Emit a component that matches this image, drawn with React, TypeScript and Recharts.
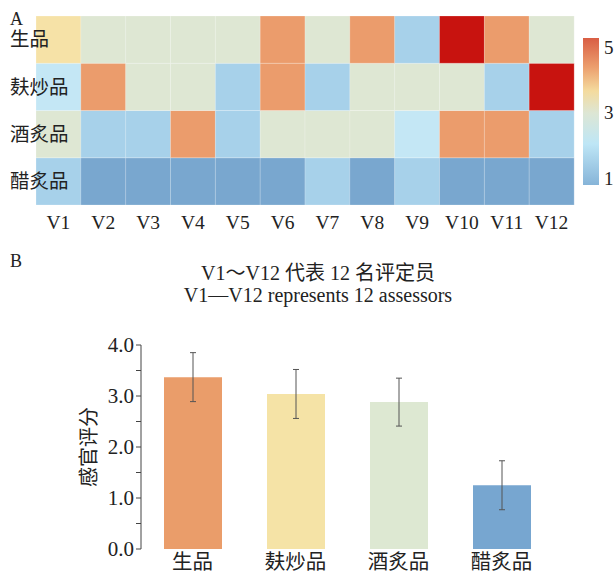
import { BarChart, Bar, XAxis, YAxis, Cell, ErrorBar, Label } from 'recharts';

const serif = '"Liberation Serif", "Times New Roman", "Noto Sans CJK SC", serif';

// panel A: heatmap of assessor scores
const assessors = ['V1', 'V2', 'V3', 'V4', 'V5', 'V6', 'V7', 'V8', 'V9', 'V10', 'V11', 'V12'];
const rowNames = ['生品', '麸炒品', '酒炙品', '醋炙品'];
const rawScores = [3.8, 3, 3, 3, 3, 4.4, 3, 4.4, 1.6, 5, 4.4, 3];
const branScores = [2.2, 4.4, 3, 3, 1.6, 4.4, 1.6, 3, 3, 3, 1.6, 5];
const wineScores = [3, 1.6, 1.6, 4.4, 1.6, 3, 3, 3, 2.2, 4.4, 4.4, 1.6];
const vinegarScores = [1.6, 1, 1, 1, 1, 1, 1.6, 1, 1.6, 1, 1, 1];
const rowTicks = [3.5, 2.5, 1.5, 0.5];
const colorbarTicks = ['5', '3', '1'];

// panel B: mean sensory score
const products = ['生品', '麸炒品', '酒炙品', '醋炙品'];
const meanScores = [3.37, 3.04, 2.88, 1.25];
const sdScores = [0.48, 0.48, 0.47, 0.48];
const barColors = ['#EA9D6A', '#F5E3A6', '#DDE8D2', '#77A6D0'];
const yTicks = [0, 0.5, 1, 1.5, 2, 2.5, 3, 3.5, 4];

const heatColor = (v: number) => {
  if (v >= 4.8) return '#C8130F';
  if (v >= 4.1) return '#EB9C6C';
  if (v >= 3.5) return '#F6E2A7';
  if (v >= 2.6) return '#DEE7D3';
  if (v >= 2) return '#C4E7F5';
  if (v >= 1.3) return '#A7D1EA';
  return '#79A7CF';
};

const heatData = assessors.map((a) => ({
  name: a,
  vinegar: 1,
  wine: 1,
  bran: 1,
  raw: 1,
}));

const rows = [
  { key: 'vinegar', scores: vinegarScores },
  { key: 'wine', scores: wineScores },
  { key: 'bran', scores: branScores },
  { key: 'raw', scores: rawScores },
];

const barData = products.map((p, i) => ({ name: p, score: meanScores[i], err: sdScores[i] }));

const RowTick = ({ y, payload }: any) => {
  const idx = rowTicks.indexOf(payload.value);
  return (
    <text x={10} y={y} dy="0.35em" textAnchor="start" fontSize={19.5} fill="#222" fontFamily={serif}>
      {rowNames[idx]}
    </text>
  );
};

export default function App() {
  return (
    <div style={{ position: 'absolute', left: 0, top: 0, width: 616, height: 573, background: '#fff', fontFamily: serif }}>
      <div style={{ position: 'absolute', left: 0, top: 0 }}>
        <BarChart width={616} height={235} data={heatData} barCategoryGap={0} margin={{ top: 16, right: 42, left: 0, bottom: 0 }}>
          <XAxis dataKey="name" axisLine={false} tickLine={false} tickSize={6} tickMargin={4} height={30}
            tick={{ fontSize: 19.5, fill: '#222', fontFamily: serif }} interval={0} />
          <YAxis type="number" domain={[0, 4]} ticks={rowTicks} width={36} axisLine={false} tickLine={false} tick={<RowTick />} />
          {rows.map((r) => (
            <Bar key={r.key} dataKey={r.key} stackId="h" isAnimationActive={false} stroke="#ffffff" strokeOpacity={0.35} strokeWidth={0.6}>
              {r.scores.map((v, i) => (
                <Cell key={i} fill={heatColor(v)} />
              ))}
            </Bar>
          ))}
        </BarChart>
      </div>

      <svg style={{ position: 'absolute', left: 0, top: 0 }} width={616} height={235}>
        <defs>
          <linearGradient id="cbar" x1="0" y1="0" x2="0" y2="1">
            <stop offset="0" stopColor="#D95E44" />
            <stop offset="0.2" stopColor="#EC9F6E" />
            <stop offset="0.36" stopColor="#F4DB9E" />
            <stop offset="0.51" stopColor="#DDE6D4" />
            <stop offset="0.72" stopColor="#BEE6F6" />
            <stop offset="1" stopColor="#86B4D8" />
          </linearGradient>
        </defs>
        <rect x={583} y={38} width={16} height={147} fill="url(#cbar)" />
        {colorbarTicks.map((t, i) => (
          <text key={t} x={604} y={47 + i * 65.5} dy="0.35em" fontSize={19} fill="#222" fontFamily={serif}>
            {t}
          </text>
        ))}
        <text x={10} y={25} fontSize={18} fill="#222" fontFamily={serif}>A</text>
      </svg>

      <div style={{ position: 'absolute', left: 10, top: 251, fontSize: 18, color: '#222' }}>B</div>
      <div style={{ position: 'absolute', left: 0, width: 636, top: 257, textAlign: 'center', fontSize: 20, color: '#222', whiteSpace: 'nowrap' }}>
        V1～V12 代表 12 名评定员
      </div>
      <div style={{ position: 'absolute', left: 0, width: 636, top: 284, textAlign: 'center', fontSize: 20, color: '#222', whiteSpace: 'nowrap' }}>
        V1—V12 represents 12 assessors
      </div>

      <div style={{ position: 'absolute', left: 0, top: 320 }}>
        <BarChart width={616} height={253} data={barData} margin={{ top: 25, right: 63, left: 0, bottom: 0 }}>
          <XAxis xAxisId="frame" type="number" domain={[0, 4]} ticks={[0, 1, 2, 3, 4]} height={0}
            stroke="#444" tickSize={4} tickFormatter={() => ''} />
          <XAxis xAxisId="cat" dataKey="name" axisLine={false} tickLine={false} height={24} tickSize={4} tickMargin={1}
            tick={{ fontSize: 20.5, fill: '#222', fontFamily: serif }} />
          <YAxis type="number" domain={[0, 4]} ticks={yTicks} width={141} stroke="#444" tickSize={5} tickMargin={2}
            interval={0} tickFormatter={(v: number) => (Number.isInteger(v) ? v.toFixed(1) : '')}
            tick={{ fontSize: 21, fill: '#222', fontFamily: serif }}>
            <Label value="感官评分" angle={-90} position="center" dx={18} style={{ fontSize: 20, fill: '#222', fontFamily: serif }} />
          </YAxis>
          <Bar dataKey="score" xAxisId="cat" barSize={58} isAnimationActive={false}>
            {barData.map((d, i) => (
              <Cell key={d.name} fill={barColors[i]} />
            ))}
            <ErrorBar dataKey="err" width={3} stroke="#555" strokeWidth={1} direction="y" />
          </Bar>
        </BarChart>
      </div>
    </div>
  );
}
